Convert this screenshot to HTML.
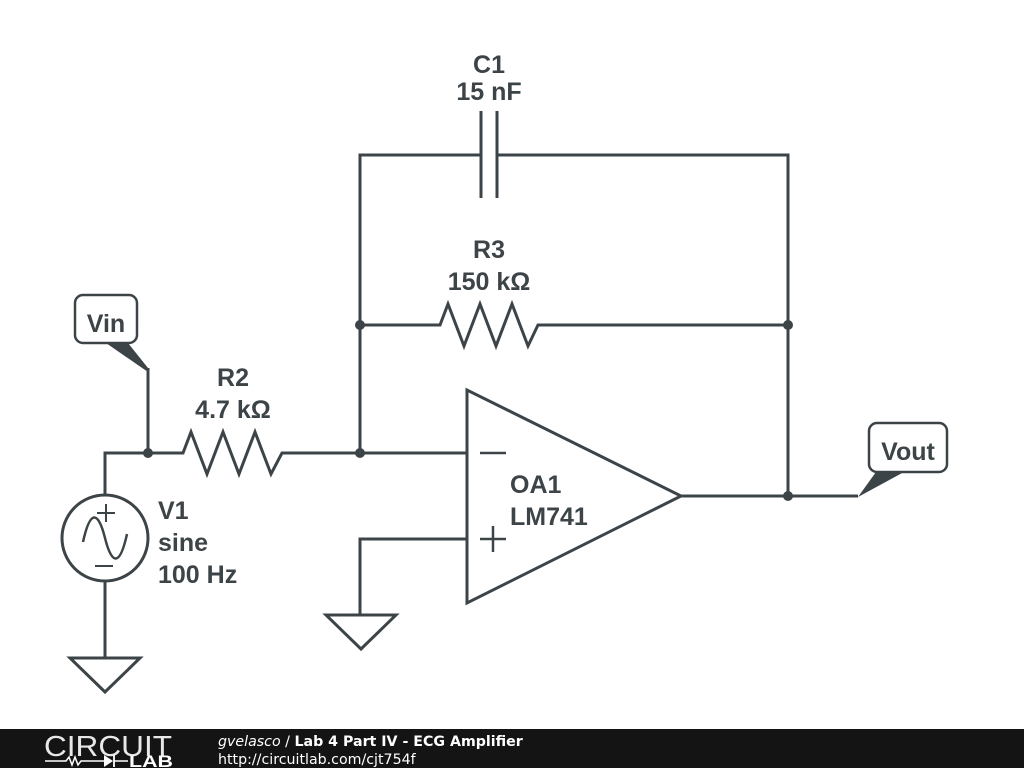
<!DOCTYPE html>
<html><head><meta charset="utf-8"><style>
html,body{margin:0;padding:0;background:#fff;width:1024px;height:768px;overflow:hidden}
svg{display:block}
</style></head><body>
<svg width="1024" height="768" viewBox="0 0 1024 768" xmlns="http://www.w3.org/2000/svg">
<g stroke="#3d4448" stroke-width="3" fill="none" stroke-linejoin="miter">
<polyline points="360,453 360,155 481,155"/>
<polyline points="497,155 788,155 788,496"/>
<line x1="481" y1="111" x2="481" y2="198"/>
<line x1="497" y1="111" x2="497" y2="198"/>
<polyline points="360,325 440,325 448,304 464,346 480,304 496,346 512,304 528,346 538,325 788,325"/>
<polyline points="105,495 105,453 183,453 191,432 207,474 223,432 239,474 255,432 271,474 282,453 467,453"/>
<line x1="148" y1="368" x2="148" y2="453"/>
<circle cx="105" cy="538" r="43"/>
<line x1="105" y1="581" x2="105" y2="658"/>
<polygon points="70,658 140,658 105,692"/>
<path d="M83,542 C90,510 98,510 105,538 C112,566 120,566 127,534" stroke-width="2.5"/>
<line x1="97" y1="513" x2="115" y2="513" stroke-width="2"/><line x1="106" y1="504" x2="106" y2="522" stroke-width="2"/>
<line x1="95" y1="566" x2="113" y2="566" stroke-width="2"/>
<polygon points="467,390 467,603 681,496"/>
<line x1="480" y1="453" x2="506" y2="453" stroke-width="2.5"/>
<line x1="480" y1="539" x2="506" y2="539" stroke-width="2.5"/><line x1="493" y1="526" x2="493" y2="552" stroke-width="2.5"/>
<polyline points="467,539 360,539 360,615"/>
<polygon points="326,615 396,615 361,649"/>
<line x1="681" y1="496" x2="858" y2="496"/>
<rect x="75" y="295" width="62" height="48" rx="8" stroke-width="2.5" fill="#fff"/>
<rect x="869" y="423" width="78" height="49" rx="8" stroke-width="2.5" fill="#fff"/>
</g>
<g fill="#3d4448">
<polygon points="106,343 128,343 148,368 148,372"/>
<polygon points="876,472 904,472 858,497"/>
<circle cx="360" cy="325" r="5"/><circle cx="788" cy="325" r="5"/>
<circle cx="360" cy="453" r="5"/><circle cx="148" cy="453" r="5"/>
<circle cx="788" cy="496" r="5"/>
</g>
<g font-family="Liberation Sans, sans-serif" font-weight="bold" font-size="25" fill="#3d4448">
<text x="489" y="73" text-anchor="middle">C1</text>
<text x="489" y="100" text-anchor="middle">15 nF</text>
<text x="489" y="258" text-anchor="middle">R3</text>
<text x="489" y="290" text-anchor="middle">150 kΩ</text>
<text x="233" y="386" text-anchor="middle">R2</text>
<text x="233" y="418" text-anchor="middle">4.7 kΩ</text>
<text x="158" y="519">V1</text>
<text x="158" y="551">sine</text>
<text x="158" y="583">100 Hz</text>
<text x="510" y="493">OA1</text>
<text x="510" y="525">LM741</text>
<text x="106" y="332" text-anchor="middle">Vin</text>
<text x="908" y="460" text-anchor="middle">Vout</text>
</g>
<rect x="0" y="729" width="1024" height="39" fill="#141414"/>
<g font-family="DejaVu Sans, sans-serif" fill="#fff">
<text x="44" y="756" font-size="29" fill="#e8e8e8" font-weight="normal" textLength="128" lengthAdjust="spacingAndGlyphs" font-family="Liberation Sans, sans-serif">CIRCUIT</text>
<text x="129" y="767" font-size="17" font-weight="bold" font-family="Liberation Sans, sans-serif" textLength="44" lengthAdjust="spacingAndGlyphs">LAB</text>
<polyline points="45,761 66,761 69,757 72,765 75,757 78,765 81,761 104,761" stroke="#fff" stroke-width="1.5" fill="none"/>
<polygon points="104,755 104,767 113,761" fill="#fff"/><line x1="114" y1="755" x2="114" y2="767" stroke="#fff" stroke-width="1.8"/>
<line x1="114" y1="761" x2="128" y2="761" stroke="#fff" stroke-width="1.5"/>
<text x="218" y="746" font-size="14.2"><tspan font-style="italic">gvelasco</tspan> / <tspan font-weight="bold">Lab 4 Part IV - ECG Amplifier</tspan></text>
<text x="218" y="764" font-size="14.2">http://circuitlab.com/cjt754f</text>
</g>
</svg>
</body></html>
